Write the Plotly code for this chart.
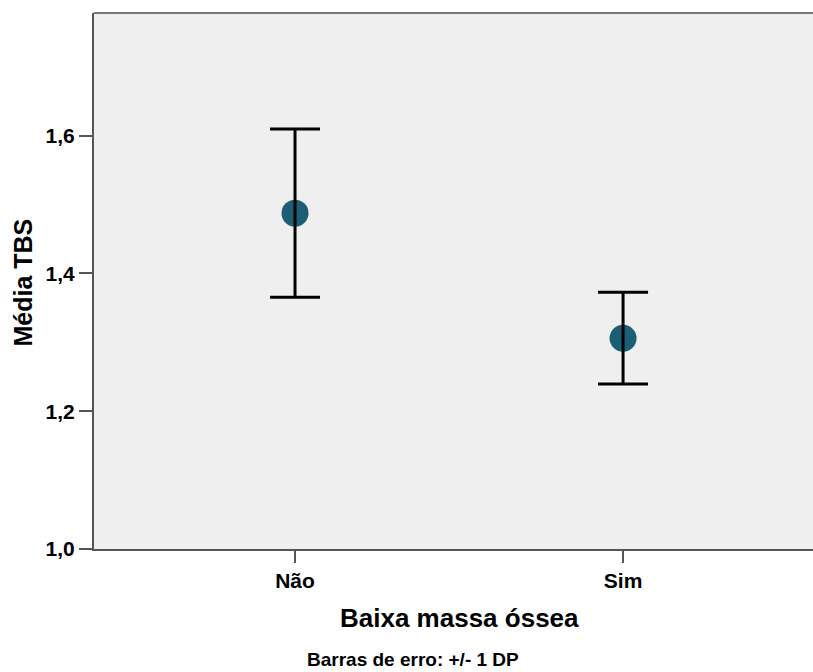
import plotly.graph_objects as go

categories = ["Não", "Sim"]
means = [1.4875, 1.306]
sds = [0.122, 0.0665]
y_ticks = [1.0, 1.2, 1.4, 1.6]
y_tick_labels = ["1,0", "1,2", "1,4", "1,6"]

FONT = "Liberation Sans, Arial, sans-serif"
L, T, W, H = 94, 13, 813, 672
PLOT_BOTTOM = 549
plot_h = PLOT_BOTTOM - T

fig = go.Figure()
fig.add_trace(go.Scatter(
    x=categories, y=means, mode="markers",
    marker=dict(size=27, color="#1c5e76", line=dict(width=0)),
    hoverinfo="skip", showlegend=False,
))
fig.add_trace(go.Scatter(
    x=categories, y=means, mode="markers",
    marker=dict(size=1, color="rgba(0,0,0,0)"),
    error_y=dict(type="data", array=sds, visible=True, color="black", thickness=3, width=25),
    hoverinfo="skip", showlegend=False,
))

fig.update_layout(
    width=W, height=H,
    margin=dict(l=L, r=0, t=T, b=H - PLOT_BOTTOM, pad=0),
    paper_bgcolor="white", plot_bgcolor="#efefef",
    font=dict(family=FONT, color="black"),
    xaxis=dict(
        type="category", range=[-0.6128, 1.579],
        showgrid=False, zeroline=False,
        showline=True, linecolor="#555555", linewidth=2,
        ticks="outside", ticklen=12, tickwidth=1.5, tickcolor="#555555",
        tickfont=dict(size=21, family=FONT, color="black", weight="bold"),
    ),
    yaxis=dict(
        range=[1.0, 1.778],
        tickvals=y_ticks, ticktext=y_tick_labels,
        showgrid=False, zeroline=False,
        showline=True, linecolor="#555555", linewidth=2,
        ticks="outside", ticklen=13, tickwidth=1.5, tickcolor="#555555",
        tickfont=dict(size=21, family=FONT, color="black", weight="bold"),
    ),
    shapes=[dict(type="line", xref="paper", yref="paper", x0=0, x1=1, y0=1, y1=1,
                 line=dict(color="#777777", width=2))],
    annotations=[
        dict(text="Baixa massa óssea", xref="x", yref="paper", x=0.5,
             y=(PLOT_BOTTOM - 618) / plot_h, xanchor="center", yanchor="middle",
             showarrow=False, font=dict(size=26, family=FONT, color="black", weight="bold")),
        dict(text="Média TBS", xref="paper", yref="paper",
             x=(22 - L) / (W - L), y=(PLOT_BOTTOM - 282.5) / plot_h,
             xanchor="center", yanchor="middle", textangle=-90,
             showarrow=False, font=dict(size=25, family=FONT, color="black", weight="bold")),
        dict(text="Barras de erro: +/- 1 DP", xref="paper", yref="paper",
             x=(412.5 - L) / (W - L), y=(PLOT_BOTTOM - 671) / plot_h,
             xanchor="center", yanchor="bottom", borderpad=0,
             showarrow=False, font=dict(size=19, family=FONT, color="black", weight="bold")),
    ],
)

fig.write_html("out.html", config={"displayModeBar": False},
               post_script="document.body.style.margin='0';document.body.style.padding='0';")
